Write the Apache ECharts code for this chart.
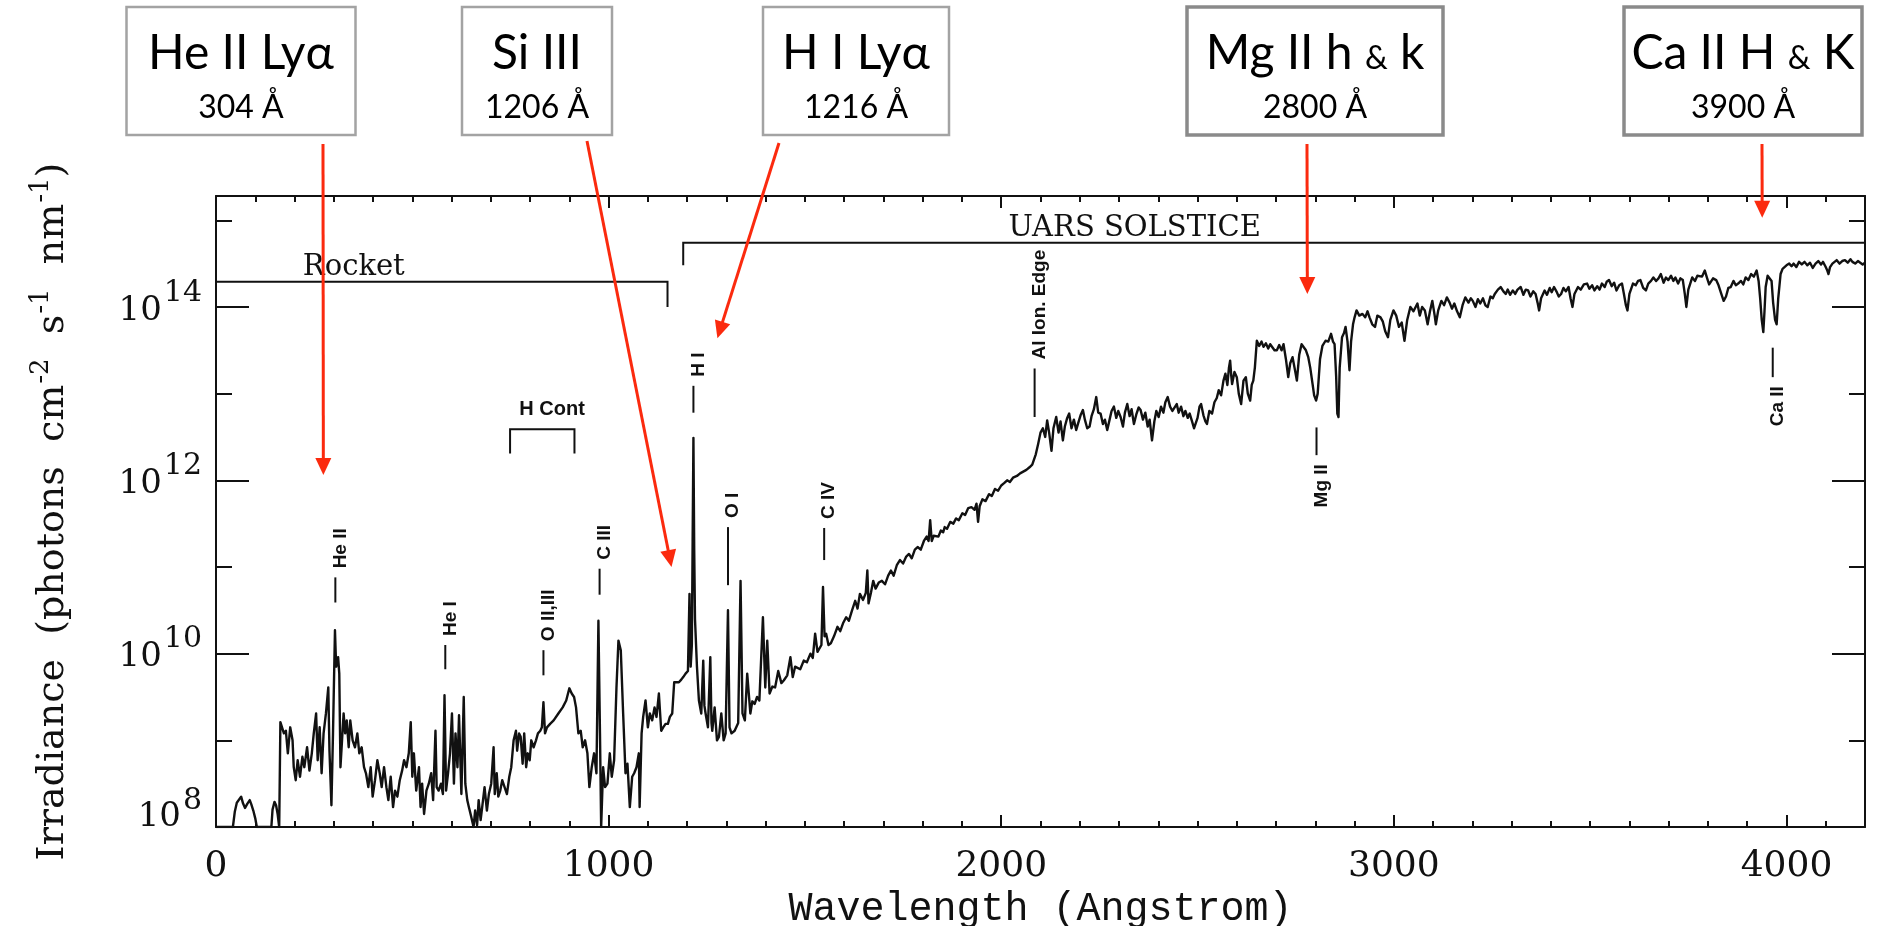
<!DOCTYPE html>
<html>
<head>
<meta charset="utf-8">
<title>Solar spectral irradiance</title>
<script src="https://cdn.jsdelivr.net/npm/echarts@6/dist/echarts.min.js"></script>
<style>
  html, body { margin: 0; padding: 0; background: #ffffff; }
  #chart { width: 1878px; height: 926px; }
</style>
</head>
<body>
<div id="chart"></div>
<script>
// Solar irradiance spectrum: [wavelength (Å), log10 irradiance (photons cm^-2 s^-1 nm^-1)]
const spectrum = [
  [0,8.0],[43,8.0],[48,8.18],[53,8.28],[58,8.3],[64,8.35],[69,8.27],[74,8.22],[80,8.27],[86,8.31],[90,8.26],[95,8.19],[100,8.1],[104,8.0],
  [141,8.0],[144,8.2],[149,8.29],[153,8.25],[157,8.15],[161,8.0],[163,8.0],
  [164,9.21],[168,9.23],[173,9.08],[178,9.11],[183,8.85],[189,9.15],[195,9.0],[198,8.69],[203,8.54],[208,8.77],[214,8.58],[220,8.81],
  [225,8.69],[232,8.92],[238,8.65],[244,8.85],[249,9.08],[255,9.31],[259,8.77],[264,9.15],[269,8.62],[274,9.08],[280,9.31],[286,9.61],
  [289,8.88],[294,8.25],[298,9.08],[303,10.27],[306,9.85],[311,9.96],[314,9.77],[317,8.69],[321,9.0],[325,9.31],[329,9.08],[333,9.23],
  [338,8.92],[342,9.23],[348,9.0],[354,8.92],[360,9.08],[365,8.85],[371,8.92],[377,8.69],[382,8.62],[388,8.46],[394,8.69],[399,8.35],
  [405,8.54],[411,8.77],[417,8.62],[422,8.46],[428,8.69],[434,8.46],[439,8.31],[445,8.58],[451,8.23],[456,8.42],[462,8.35],[468,8.54],
  [474,8.65],[479,8.77],[485,8.69],[491,8.85],[496,9.21],[500,8.58],[504,8.85],[510,8.42],[517,8.69],[521,8.23],[525,8.5],[530,8.15],
  [536,8.42],[542,8.5],[548,8.62],[553,8.31],[559,9.11],[562,8.46],[567,8.42],[573,8.5],[578,8.38],[582,9.52],[586,8.42],[591,8.62],
  [596,8.85],[601,9.31],[606,8.5],[610,9.08],[615,8.69],[619,9.29],[625,8.38],[631,9.5],[635,8.5],[640,8.31],[644,8.23],[650,8.12],
  [656,8.0],[660,8.19],[665,8.02],[669,8.31],[674,8.08],[678,8.23],[684,8.46],[690,8.19],[695,8.38],[701,8.5],[707,8.92],[710,8.38],
  [715,8.62],[719,8.35],[724,8.42],[729,8.54],[735,8.46],[741,8.38],[747,8.58],[752,8.69],[758,9.0],[764,9.11],[767,8.88],[772,9.08],
  [776,9.04],[781,8.73],[785,9.08],[790,8.69],[794,8.85],[799,8.77],[803,9.0],[809,8.92],[815,9.0],[820,9.08],[826,9.11],[830,9.15],
  [834,9.44],[838,9.08],[843,9.15],[851,9.19],[860,9.23],[872,9.31],[883,9.38],[892,9.46],[900,9.6],[906,9.54],[912,9.5],[917,9.38],
  [923,9.08],[929,9.11],[934,8.92],[940,9.0],[946,8.85],[951,8.46],[957,8.69],[963,8.85],[969,8.62],[974,10.38],[978,9.08],[981,8.0],
  [986,8.69],[991,8.46],[997,8.5],[1003,8.85],[1008,8.58],[1014,8.77],[1020,9.61],[1025,10.15],[1031,10.04],[1037,9.31],[1043,8.62],
  [1048,8.73],[1054,8.23],[1060,8.58],[1065,8.62],[1071,8.69],[1077,8.85],[1079,8.23],[1084,9.08],[1088,9.27],[1094,9.46],[1100,9.15],
  [1105,9.31],[1111,9.23],[1117,9.38],[1122,9.27],[1128,9.54],[1134,9.11],[1139,9.15],[1145,9.19],[1151,9.19],[1156,9.27],[1162,9.31],
  [1165,9.31],[1167,9.67],[1179,9.67],[1185,9.7],[1190,9.73],[1196,9.77],[1202,9.8],[1206,10.69],[1209,9.85],[1212,10.1],[1214,11.3],
  [1216,12.49],[1218,11.2],[1220,10.4],[1225,9.85],[1230,9.46],[1236,9.31],[1241,9.92],[1244,9.4],[1247,9.31],[1253,9.15],[1259,9.96],
  [1262,9.2],[1264,9.11],[1270,9.38],[1276,9.0],[1281,9.04],[1287,9.31],[1293,9.0],[1298,9.08],[1304,10.5],[1308,9.15],[1313,9.08],
  [1321,9.11],[1330,9.2],[1336,10.84],[1341,9.31],[1347,9.23],[1353,9.77],[1361,9.31],[1366,9.45],[1372,9.42],[1378,9.5],[1384,9.46],
  [1393,10.42],[1399,9.61],[1404,10.15],[1410,9.54],[1417,9.62],[1424,9.61],[1432,9.8],[1440,9.66],[1446,9.69],[1455,9.75],[1463,9.96],
  [1469,9.73],[1475,9.85],[1480,9.85],[1488,9.82],[1497,9.92],[1505,9.9],[1514,10.0],[1520,9.95],[1526,10.23],[1532,10.02],[1537,10.04],
  [1542,10.1],[1546,10.77],[1550,10.2],[1554,10.23],[1560,10.1],[1566,10.12],[1574,10.2],[1583,10.31],[1590,10.26],[1597,10.35],
  [1605,10.42],[1612,10.38],[1620,10.5],[1628,10.61],[1634,10.52],[1640,10.69],[1648,10.62],[1655,10.7],[1659,10.96],[1662,10.58],
  [1668,10.7],[1674,10.84],[1680,10.75],[1688,10.82],[1696,10.84],[1704,10.8],[1712,10.9],[1719,10.96],[1726,10.9],[1734,11.02],
  [1742,11.08],[1750,11.04],[1758,11.12],[1765,11.15],[1772,11.1],[1780,11.2],[1787,11.23],[1795,11.2],[1803,11.3],[1810,11.35],
  [1815,11.3],[1819,11.54],[1823,11.3],[1828,11.36],[1833,11.38],[1840,11.35],[1846,11.42],[1852,11.4],[1856,11.46],[1862,11.44],
  [1870,11.52],[1878,11.5],[1885,11.56],[1892,11.54],[1901,11.62],[1908,11.6],[1916,11.68],[1924,11.69],[1932,11.66],[1937,11.73],
  [1941,11.52],[1945,11.7],[1952,11.78],[1960,11.76],[1969,11.84],[1976,11.82],[1984,11.9],[1992,11.88],[2000,11.94],[2008,11.97],
  [2015,12.0],[2022,11.98],[2030,12.03],[2040,12.05],[2048,12.08],[2056,12.1],[2064,12.12],[2072,12.15],[2079,12.18],[2083,12.19],
  [2088,12.3],[2094,12.42],[2100,12.55],[2106,12.6],[2112,12.5],[2117,12.69],[2122,12.55],[2128,12.34],[2133,12.6],[2140,12.73],
  [2146,12.55],[2151,12.68],[2157,12.46],[2162,12.62],[2168,12.72],[2173,12.77],[2179,12.6],[2185,12.7],[2191,12.58],[2196,12.66],
  [2202,12.75],[2208,12.81],[2213,12.7],[2219,12.6],[2225,12.62],[2230,12.74],[2236,12.82],[2242,12.96],[2247,12.78],[2253,12.77],
  [2259,12.65],[2264,12.7],[2270,12.58],[2276,12.7],[2281,12.8],[2287,12.85],[2293,12.72],[2298,12.8],[2304,12.73],[2310,12.62],
  [2315,12.78],[2321,12.88],[2327,12.74],[2332,12.82],[2338,12.65],[2344,12.76],[2350,12.84],[2355,12.81],[2361,12.7],[2367,12.78],
  [2373,12.62],[2378,12.7],[2384,12.46],[2390,12.68],[2395,12.8],[2401,12.73],[2407,12.85],[2413,12.78],[2418,12.9],[2424,12.96],
  [2430,12.85],[2436,12.8],[2441,12.81],[2447,12.88],[2452,12.78],[2458,12.85],[2464,12.74],[2469,12.8],[2475,12.72],[2480,12.77],
  [2486,12.68],[2491,12.6],[2494,12.58],[2500,12.72],[2505,12.85],[2509,12.88],[2515,12.75],[2520,12.68],[2524,12.65],[2530,12.8],
  [2537,12.77],[2543,12.9],[2549,12.95],[2554,13.04],[2560,12.98],[2566,13.15],[2571,13.23],[2576,13.1],[2580,13.3],[2583,13.38],
  [2586,13.2],[2588,13.11],[2594,13.25],[2600,13.19],[2605,13.0],[2611,12.88],[2617,13.15],[2623,13.19],[2628,13.0],[2634,12.92],
  [2638,13.1],[2642,13.15],[2646,13.3],[2651,13.61],[2657,13.55],[2663,13.6],[2668,13.54],[2674,13.58],[2680,13.52],[2685,13.57],
  [2690,13.55],[2696,13.5],[2702,13.5],[2708,13.56],[2714,13.5],[2719,13.57],[2725,13.4],[2731,13.19],[2736,13.35],[2742,13.42],
  [2747,13.3],[2753,13.15],[2759,13.45],[2765,13.57],[2770,13.55],[2776,13.5],[2782,13.42],[2787,13.3],[2793,13.11],[2797,12.98],
  [2802,12.92],[2806,13.0],[2812,13.4],[2818,13.55],[2826,13.61],[2833,13.6],[2840,13.69],[2845,13.6],[2849,13.57],[2853,13.2],
  [2856,12.77],[2859,12.73],[2862,13.3],[2868,13.65],[2873,13.7],[2877,13.77],[2882,13.6],[2887,13.27],[2891,13.6],[2896,13.8],
  [2900,13.88],[2905,13.96],[2912,13.9],[2920,13.92],[2927,13.88],[2933,13.95],[2938,13.88],[2945,13.8],[2952,13.77],[2958,13.9],
  [2966,13.88],[2972,13.83],[2978,13.72],[2985,13.65],[2991,13.85],[2999,13.96],[3006,13.9],[3013,13.77],[3020,13.82],[3027,13.61],
  [3034,13.85],[3042,14.0],[3050,13.95],[3060,14.04],[3066,13.9],[3072,14.0],[3079,13.96],[3086,13.8],[3092,13.95],[3098,14.07],
  [3104,13.9],[3107,13.8],[3113,13.96],[3121,14.07],[3128,14.02],[3135,14.11],[3142,14.05],[3148,13.98],[3154,14.04],[3161,13.95],
  [3168,13.88],[3175,14.02],[3182,14.11],[3190,14.05],[3196,14.1],[3201,14.07],[3208,14.0],[3214,14.09],[3220,14.04],[3227,14.1],
  [3233,14.02],[3239,14.0],[3246,14.12],[3252,14.1],[3257,14.15],[3265,14.2],[3272,14.23],[3279,14.18],[3285,14.15],[3290,14.2],
  [3296,14.14],[3303,14.19],[3309,14.15],[3315,14.2],[3323,14.23],[3330,14.14],[3336,14.2],[3342,14.19],[3348,14.12],[3355,14.18],
  [3361,14.15],[3366,14.05],[3370,13.96],[3375,14.1],[3384,14.19],[3390,14.14],[3397,14.22],[3402,14.17],[3408,14.23],[3414,14.18],
  [3420,14.12],[3426,14.15],[3432,14.22],[3438,14.18],[3445,14.23],[3450,14.1],[3455,14.0],[3460,14.15],[3469,14.23],[3476,14.2],
  [3484,14.26],[3492,14.27],[3498,14.21],[3505,14.25],[3511,14.19],[3518,14.24],[3524,14.2],[3530,14.27],[3537,14.23],[3542,14.29],
  [3548,14.31],[3555,14.24],[3561,14.28],[3567,14.19],[3574,14.25],[3581,14.27],[3586,14.15],[3591,14.02],[3595,13.96],[3600,14.15],
  [3609,14.27],[3616,14.25],[3622,14.3],[3628,14.31],[3635,14.22],[3642,14.19],[3648,14.27],[3655,14.3],[3661,14.34],[3668,14.3],
  [3674,14.33],[3680,14.38],[3687,14.28],[3693,14.34],[3699,14.31],[3706,14.36],[3712,14.3],[3717,14.34],[3724,14.27],[3730,14.33],
  [3736,14.31],[3741,14.15],[3745,14.0],[3750,14.2],[3760,14.34],[3767,14.3],[3773,14.36],[3778,14.38],[3785,14.35],[3792,14.42],
  [3798,14.33],[3803,14.26],[3807,14.27],[3813,14.33],[3821,14.31],[3827,14.25],[3834,14.15],[3840,14.07],[3846,14.12],[3852,14.22],
  [3858,14.23],[3865,14.3],[3871,14.25],[3877,14.27],[3884,14.3],[3890,14.26],[3896,14.34],[3903,14.31],[3910,14.38],[3917,14.35],
  [3924,14.42],[3929,14.3],[3933,14.1],[3937,13.85],[3941,13.71],[3944,13.95],[3947,14.23],[3952,14.36],[3957,14.38],[3962,14.3],
  [3966,14.05],[3971,13.85],[3975,13.8],[3979,14.1],[3985,14.38],[3990,14.44],[3994,14.46],[4000,14.48],[4007,14.5],[4013,14.47],
  [4018,14.5],[4025,14.46],[4032,14.52],[4039,14.49],[4046,14.52],[4053,14.48],[4060,14.51],[4067,14.45],[4074,14.5],[4081,14.53],
  [4088,14.49],[4093,14.52],[4099,14.47],[4104,14.42],[4107,14.38],[4111,14.46],[4117,14.5],[4121,14.52],[4128,14.54],[4135,14.5],
  [4142,14.53],[4149,14.54],[4156,14.51],[4163,14.55],[4168,14.52],[4175,14.5],[4182,14.53],[4187,14.51],[4194,14.49],[4200,14.51]
];

// Axis ranges (wavelength in Å, irradiance as log10 decades)
const wavelengthRange = [0, 4200];
const decadeRange = [8, 15.28];
const labelledDecades = [8, 10, 12, 14];

// Instrument coverage brackets and the H continuum bracket
const bracketNames = ['Rocket', 'UARS SOLSTICE', 'H Cont'];
const bracketSpans = [[0, 1150], [1190, 4200], [749, 913]];
const bracketLevels = [14.29, 14.74, 12.59];
const bracketLegLevels = [14.0, 14.48, 12.31];
const bracketLegs = ['end', 'start', 'both'];
const bracketLabelWavelengths = [351, 2340, 856];

// Emission / absorption line identifications
const lineIdNames = ['He II', 'He I', 'O II,III', 'C III', 'H I', 'O I', 'C IV', 'Al Ion. Edge', 'Mg II', 'Ca II'];
const lineIdWavelengths = [304, 584, 834, 977, 1216, 1304, 1549, 2085, 2803, 3965];
const lineIdTickTop = [10.88, 10.10, 10.04, 10.98, 13.09, 11.46, 11.45, 13.29, 12.61, 13.53];
const lineIdTickBottom = [10.59, 9.82, 9.75, 10.68, 12.78, 10.79, 11.08, 12.73, 12.29, 13.19];
const lineIdLabelSide = ['above', 'above', 'above', 'above', 'above', 'above', 'above', 'above', 'below', 'below'];

// Highlighted lines with their callouts
const calloutTitles = ['He II Lyα', 'Si III', 'H I Lyα', 'Mg II h & k', 'Ca II H & K'];
const calloutWavelengthText = ['304 Å', '1206 Å', '1216 Å', '2800 Å', '3900 Å'];
const calloutWavelengths = [304, 1206, 1216, 2800, 3900];
const calloutTargetDecades = [12.06, 11.0, 13.64, 14.15, 15.03];

// ---------------------------------------------------------------------------
const INK = '#111111';
const RED = '#fb2a0e';
const SERIF = '"DejaVu Serif", "Liberation Serif", serif';
const LABEL_SANS = '"Liberation Sans", Arial, sans-serif';
const BOX_SANS = 'Lato, "Open Sans", "Liberation Sans", sans-serif';

const chart = echarts.init(document.getElementById('chart'), null, { renderer: 'canvas' });

const tickStyle = { color: INK, width: 2 };

// the lowest decade label sits just above the bottom axis
function decadeLabel(v) {
  if (labelledDecades.indexOf(v) < 0) return '';
  return v === decadeRange[0] ? '{bl|10}{sl|' + v + '}' : '{b|10}{s|' + v + '}';
}

function renderBracket(params, api) {
  const i = params.dataIndex;
  const span = bracketSpans[i];
  const lvl = bracketLevels[i];
  const leg = bracketLegLevels[i];
  const a = api.coord([span[0], lvl]);
  const b = api.coord([span[1], lvl]);
  const aLeg = api.coord([span[0], leg]);
  const bLeg = api.coord([span[1], leg]);
  let pts;
  if (bracketLegs[i] === 'end') pts = [a, b, bLeg];
  else if (bracketLegs[i] === 'start') pts = [aLeg, a, b];
  else pts = [aLeg, a, b, bLeg];
  const labelPt = api.coord([bracketLabelWavelengths[i], lvl]);
  const isSmall = bracketNames[i] === 'H Cont';
  return {
    type: 'group',
    children: [
      { type: 'polyline', shape: { points: pts }, style: { stroke: INK, lineWidth: 2, fill: null } },
      {
        type: 'text',
        x: labelPt[0],
        y: labelPt[1] - (isSmall ? 10 : 0),
        style: {
          text: bracketNames[i],
          font: isSmall ? 'bold 20px ' + LABEL_SANS : '29px ' + SERIF,
          fill: INK,
          align: 'center',
          verticalAlign: 'bottom'
        }
      }
    ]
  };
}

function renderLineId(params, api) {
  const i = params.dataIndex;
  const w = lineIdWavelengths[i];
  const top = api.coord([w, lineIdTickTop[i]]);
  const bottom = api.coord([w, lineIdTickBottom[i]]);
  const above = lineIdLabelSide[i] === 'above';
  const gap = 9;
  return {
    type: 'group',
    children: [
      { type: 'line', shape: { x1: top[0], y1: top[1], x2: bottom[0], y2: bottom[1] }, style: { stroke: INK, lineWidth: 2 } },
      {
        type: 'text',
        x: top[0] + 5,
        y: above ? top[1] - gap : bottom[1] + gap,
        rotation: Math.PI / 2,
        style: {
          text: lineIdNames[i],
          font: 'bold 19px ' + LABEL_SANS,
          fill: INK,
          align: above ? 'left' : 'right',
          verticalAlign: 'middle'
        }
      }
    ]
  };
}

const option = {
  animation: false,
  backgroundColor: '#ffffff',
  grid: { left: 216, right: 13, top: 196, bottom: 99, outerBoundsMode: 'none' },
  xAxis: [
    {
      type: 'value', position: 'bottom', min: wavelengthRange[0], max: wavelengthRange[1], interval: 1000,
      name: 'Wavelength (Angstrom)', nameLocation: 'middle', nameGap: 58,
      nameTextStyle: { fontFamily: '"Liberation Mono", "DejaVu Sans Mono", monospace', fontSize: 40, color: INK },
      axisLine: { show: true, onZero: false, lineStyle: { color: INK, width: 2 } },
      axisTick: { show: true, inside: true, length: 12, lineStyle: tickStyle },
      minorTick: { show: true, splitNumber: 10, length: 6, lineStyle: tickStyle },
      axisLabel: { margin: 22, fontFamily: SERIF, fontSize: 36, color: INK, formatter: v => (v % 1000 === 0 ? String(v) : '') },
      splitLine: { show: false }, minorSplitLine: { show: false }
    },
    {
      type: 'value', position: 'top', min: wavelengthRange[0], max: wavelengthRange[1], interval: 1000,
      axisLine: { show: true, onZero: false, lineStyle: { color: INK, width: 2 } },
      axisTick: { show: true, inside: true, length: 12, lineStyle: tickStyle },
      minorTick: { show: true, splitNumber: 10, length: 6, lineStyle: tickStyle },
      axisLabel: { show: false }, splitLine: { show: false }, minorSplitLine: { show: false }
    }
  ],
  yAxis: [
    {
      type: 'value', position: 'left', min: decadeRange[0], max: decadeRange[1], interval: 2,
      name: '{t|Irradiance  (photons  cm}{s|-2}{t|  s}{s|-1}{t|  nm}{s|-1}{t|)}',
      nameLocation: 'middle', nameGap: 138,
      nameTextStyle: {
        color: INK,
        rich: {
          t: { fontFamily: SERIF, fontSize: 38, color: INK },
          s: { fontFamily: SERIF, fontSize: 26, color: INK, padding: [0, 0, 24, 1] }
        }
      },
      axisLine: { show: true, onZero: false, lineStyle: { color: INK, width: 2 } },
      axisTick: { show: true, inside: true, length: 33, lineStyle: tickStyle },
      minorTick: { show: true, splitNumber: 2, length: 16, lineStyle: tickStyle },
      axisLabel: {
        margin: 14, color: INK, formatter: decadeLabel,
        rich: {
          b: { fontFamily: SERIF, fontSize: 34, color: INK, padding: [8, 0, 0, 0] },
          s: { fontFamily: SERIF, fontSize: 30, color: INK, padding: [0, 0, 28, 2] },
          bl: { fontFamily: SERIF, fontSize: 34, color: INK, padding: [0, 0, 20, 0] },
          sl: { fontFamily: SERIF, fontSize: 30, color: INK, padding: [0, 0, 52, 2] }
        }
      },
      splitLine: { show: false }, minorSplitLine: { show: false }
    },
    {
      type: 'value', position: 'right', min: decadeRange[0], max: decadeRange[1], interval: 2,
      axisLine: { show: true, onZero: false, lineStyle: { color: INK, width: 2 } },
      axisTick: { show: true, inside: true, length: 33, lineStyle: tickStyle },
      minorTick: { show: true, splitNumber: 2, length: 16, lineStyle: tickStyle },
      axisLabel: { show: false }, splitLine: { show: false }, minorSplitLine: { show: false }
    }
  ],
  series: [
    {
      name: 'Irradiance', type: 'line', xAxisIndex: 0, yAxisIndex: 0,
      data: spectrum, showSymbol: false, symbol: 'none', clip: true,
      lineStyle: { color: INK, width: 2.4, join: 'round' }, z: 3
    },
    {
      name: 'Brackets', type: 'custom', xAxisIndex: 0, yAxisIndex: 0,
      renderItem: renderBracket,
      data: bracketSpans.map((s, i) => [s[0], bracketLevels[i]]),
      z: 4
    },
    {
      name: 'Line IDs', type: 'custom', xAxisIndex: 0, yAxisIndex: 0,
      renderItem: renderLineId,
      data: lineIdWavelengths.map((w, i) => [w, lineIdTickTop[i]]),
      z: 4
    }
  ]
};

chart.setOption(option);

// Callout boxes across the top, each with an arrow to its line
const boxCenters = [241, 537, 856, 1315, 1743];
const boxWidths = [229, 150, 186, 256, 238];
const boxHeavy = [false, false, false, true, true];
const arrowFrom = [[323, 144], [587, 141], [779, 143], [1307, 144], [1762, 144]];
const arrowStandoff = [-12, -18, 24, -8, 15];

function titleRich(t) {
  return t.indexOf('&') >= 0 ? t.split('&').map(p => '{t|' + p + '}').join('{a|&}') : '{t|' + t + '}';
}

const graphics = [];
calloutTitles.forEach((title, i) => {
  const cx = boxCenters[i];
  const w = boxWidths[i];
  graphics.push({
    type: 'rect',
    shape: { x: cx - w / 2, y: 7, width: w, height: 128 },
    style: { fill: '#ffffff', stroke: boxHeavy[i] ? '#8a8a8a' : '#a3a3a3', lineWidth: boxHeavy[i] ? 3.5 : 2.5 },
    z: 10
  });
  graphics.push({
    type: 'text', x: cx, y: 54, z: 11,
    style: {
      text: titleRich(title),
      align: 'center', verticalAlign: 'middle',
      rich: {
        t: { fontFamily: BOX_SANS, fontSize: 48, fill: '#000000' },
        a: { fontFamily: BOX_SANS, fontSize: 32, fill: '#000000', padding: [10, 0, 0, 0] }
      }
    }
  });
  graphics.push({
    type: 'text', x: cx, y: 108, z: 11,
    style: { text: calloutWavelengthText[i], font: '32px ' + BOX_SANS, fill: '#000000', align: 'center', verticalAlign: 'middle' }
  });

  const target = chart.convertToPixel({ xAxisIndex: 0, yAxisIndex: 0 }, [calloutWavelengths[i], calloutTargetDecades[i]]);
  const tip = [target[0] + arrowStandoff[i], target[1]];
  const from = arrowFrom[i];
  const dx = tip[0] - from[0];
  const dy = tip[1] - from[1];
  const len = Math.hypot(dx, dy);
  const ux = dx / len;
  const uy = dy / len;
  const headL = 17;
  const headW = 8;
  const base = [tip[0] - ux * headL, tip[1] - uy * headL];
  graphics.push({
    type: 'line', z: 12,
    shape: { x1: from[0], y1: from[1], x2: base[0] + ux * 2, y2: base[1] + uy * 2 },
    style: { stroke: RED, lineWidth: 3 }
  });
  graphics.push({
    type: 'polygon', z: 12,
    shape: { points: [tip, [base[0] - uy * headW, base[1] + ux * headW], [base[0] + uy * headW, base[1] - ux * headW]] },
    style: { fill: RED }
  });
});

chart.setOption({ graphic: graphics });
</script>
</body>
</html>
